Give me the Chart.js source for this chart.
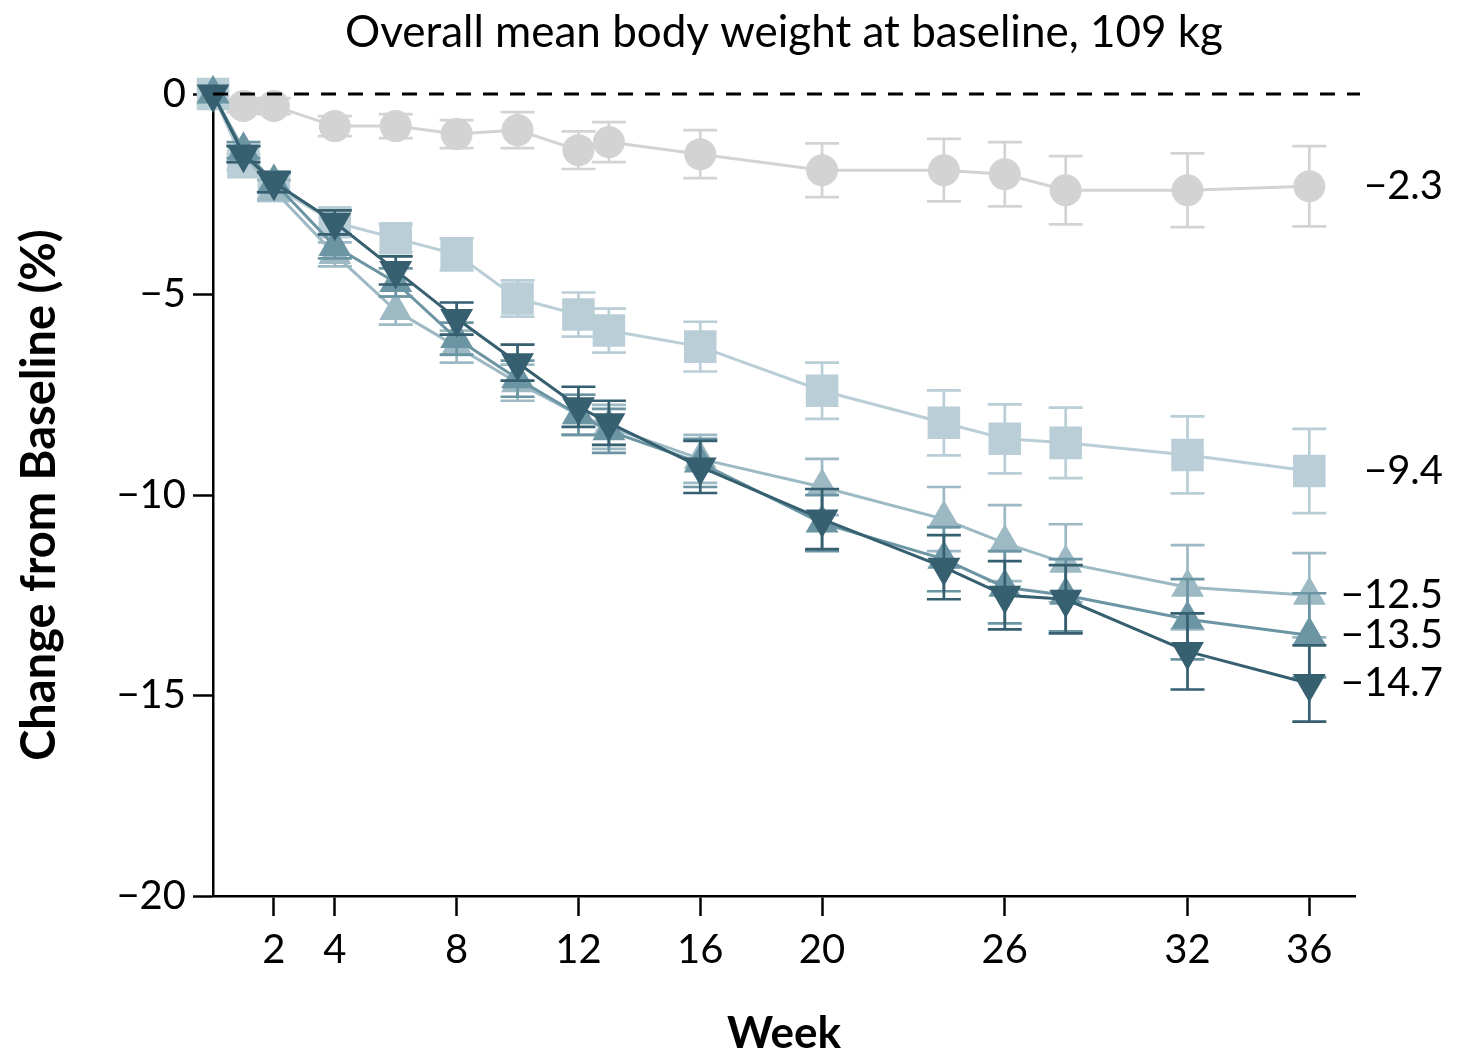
<!DOCTYPE html>
<html>
<head>
<meta charset="utf-8">
<script src="https://cdn.jsdelivr.net/npm/chart.js@4.4.1/dist/chart.umd.min.js"></script>
<style>
  html, body { margin: 0; padding: 0; background: #fff; }
</style>
</head>
<body>
<canvas id="chart" width="1461" height="1060"></canvas>
<script>
// weeks of measurement and x-axis tick labels
const weeks = [0, 1, 2, 4, 6, 8, 10, 12, 13, 16, 20, 24, 26, 28, 32, 36];
const tickWeeks = [2, 4, 8, 12, 16, 20, 26, 32, 36];
const yTicks = [0, -5, -10, -15, -20];
const chartTitle = "Overall mean body weight at baseline, 109 kg";

// mean change from baseline (%) and error half-widths
const placebo    = [0, -0.3, -0.3, -0.8, -0.8, -1.0, -0.9, -1.4, -1.2, -1.5, -1.9, -1.9, -2.0, -2.4, -2.4, -2.3];
const placeboErr = [0, 0.15, 0.2, 0.25, 0.3, 0.35, 0.45, 0.47, 0.5, 0.6, 0.67, 0.78, 0.8, 0.85, 0.92, 1.0];

const squares    = [0, -1.7, -2.3, -3.2, -3.6, -4.0, -5.1, -5.5, -5.9, -6.3, -7.4, -8.2, -8.6, -8.7, -9.0, -9.4];
const squaresErr = [0, 0.2, 0.3, 0.35, 0.35, 0.4, 0.45, 0.55, 0.55, 0.62, 0.7, 0.81, 0.86, 0.88, 0.96, 1.05];

const triLight    = [0, -1.5, -2.4, -4.0, -5.4, -6.3, -7.2, -8.0, -8.3, -9.1, -9.8, -10.6, -11.2, -11.7, -12.3, -12.5];
const triLightErr = [0, 0.2, 0.25, 0.3, 0.35, 0.4, 0.45, 0.5, 0.55, 0.6, 0.7, 0.8, 0.95, 0.97, 1.05, 1.05];

const triMid    = [0, -1.4, -2.2, -3.8, -4.7, -6.1, -7.1, -8.0, -8.4, -9.2, -10.7, -11.6, -12.3, -12.5, -13.1, -13.5];
const triMidErr = [0, 0.2, 0.25, 0.3, 0.35, 0.4, 0.45, 0.5, 0.55, 0.6, 0.7, 0.8, 0.9, 0.9, 1.0, 1.05];

const triDown    = [0, -1.5, -2.2, -3.2, -4.4, -5.6, -6.7, -7.8, -8.2, -9.3, -10.6, -11.8, -12.5, -12.6, -13.9, -14.7];
const triDownErr = [0, 0.2, 0.25, 0.3, 0.35, 0.4, 0.45, 0.5, 0.55, 0.65, 0.75, 0.8, 0.85, 0.85, 0.95, 0.95];

const toPoints = vals => weeks.map((w, i) => ({ x: w, y: vals[i] }));
const minus = v => (v < 0 ? "\u2212" : "") + Math.abs(v);

// error bars drawn right before each dataset so stacking matches
const errorBars = {
    id: "errorBars",
    beforeDatasetDraw(chart, args) {
        const ds = chart.data.datasets[args.index];
        if (!ds.errors) return;
        const xs = chart.scales.x, ys = chart.scales.y;
        const ctx = chart.ctx;
        ctx.save();
        ctx.strokeStyle = ds.borderColor;
        ctx.lineWidth = 2.7;
        ds.data.forEach((p, i) => {
            const e = ds.errors[i];
            if (!e) return;
            const px = xs.getPixelForValue(p.x);
            const top = ys.getPixelForValue(p.y + e);
            const bot = ys.getPixelForValue(p.y - e);
            ctx.beginPath();
            ctx.moveTo(px, top); ctx.lineTo(px, bot);
            ctx.moveTo(px - 17, top); ctx.lineTo(px + 17, top);
            ctx.moveTo(px - 17, bot); ctx.lineTo(px + 17, bot);
            ctx.stroke();
        });
        ctx.restore();
    }
};

// title centred over the plot, dashed zero line, end-of-line value labels
const extras = {
    id: "extras",
    afterDatasetsDraw(chart) {
        const { ctx, chartArea } = chart;
        const ys = chart.scales.y;
        const y0 = ys.getPixelForValue(0);
        ctx.save();
        ctx.strokeStyle = "#000";
        ctx.lineWidth = 3;
        ctx.setLineDash([15, 12]);
        ctx.beginPath();
        ctx.moveTo(chartArea.left, y0);
        ctx.lineTo(chartArea.right + 5, y0);
        ctx.stroke();
        ctx.setLineDash([]);

        ctx.fillStyle = "#000";
        ctx.textBaseline = "middle";
        ctx.textAlign = "center";
        ctx.font = "44px Lato";
        ctx.fillText(chartTitle, (chartArea.left + chartArea.right) / 2, chartArea.top - 61);

        ctx.font = "40px Lato";
        ctx.textAlign = "right";
        chart.data.datasets.forEach(ds => {
            const last = ds.data[ds.data.length - 1].y;
            ctx.fillText("\u2212" + Math.abs(last).toFixed(1), chartArea.right + 88, ys.getPixelForValue(last));
        });
        ctx.restore();
    }
};

const series = (label, vals, errs, color, style, radius, rotation) => ({
    label: label,
    data: toPoints(vals),
    errors: errs,
    borderColor: color,
    backgroundColor: color,
    borderWidth: 3,
    pointStyle: style,
    pointRadius: radius,
    pointRotation: rotation || 0,
    pointBorderWidth: 0,
    pointBackgroundColor: color,
    tension: 0,
    clip: false
});

Chart.defaults.font.family = "Lato";
Chart.defaults.color = "#000";

new Chart(document.getElementById("chart"), {
    type: "line",
    data: {
        // first dataset ends up on top
        datasets: [
            series("Dose 3", triDown, triDownErr, "#365f70", "triangle", 19, 180),
            series("Dose 2", triMid, triMidErr, "#6b95a3", "triangle", 19),
            series("Dose 1", triLight, triLightErr, "#9db9c3", "triangle", 19),
            series("Comparator", squares, squaresErr, "#b9ced6", "rect", 23),
            series("Placebo", placebo, placeboErr, "#d3d3d3", "circle", 16)
        ]
    },
    plugins: [errorBars, extras],
    options: {
        responsive: false,
        animation: false,
        layout: { padding: { left: 0, right: 106, top: 94, bottom: 0 } },
        plugins: {
            legend: { display: false },
            tooltip: { enabled: false },
            title: { display: false }
        },
        scales: {
            x: {
                type: "linear",
                min: 0,
                max: 37.5,
                afterBuildTicks: s => { s.ticks = tickWeeks.map(v => ({ value: v })); },
                afterFit: s => { s.height = 164; },
                grid: { drawOnChartArea: false, tickLength: 20, tickColor: "#000", tickWidth: 2.5 },
                border: { color: "#000", width: 2.5 },
                ticks: { font: { size: 40 }, color: "#000", padding: 10, maxRotation: 0, autoSkip: false },
                title: {
                    display: true,
                    text: "Week",
                    font: { size: 44, weight: "bold" },
                    color: "#000",
                    padding: { top: 0, bottom: 0 }
                }
            },
            y: {
                min: -20,
                max: 0,
                afterBuildTicks: s => { s.ticks = yTicks.map(v => ({ value: v })); },
                afterFit: s => { s.width = 213; },
                grid: { drawOnChartArea: false, tickLength: 20, tickColor: "#000", tickWidth: 2.5 },
                border: { color: "#000", width: 2.5 },
                ticks: { font: { size: 40 }, color: "#000", padding: 7, callback: v => minus(v) },
                title: {
                    display: true,
                    text: "Change from Baseline (%)",
                    font: { size: 47, weight: "bold" },
                    color: "#000",
                    padding: { top: 12, bottom: 0 }
                }
            }
        }
    }
});
</script>
</body>
</html>
